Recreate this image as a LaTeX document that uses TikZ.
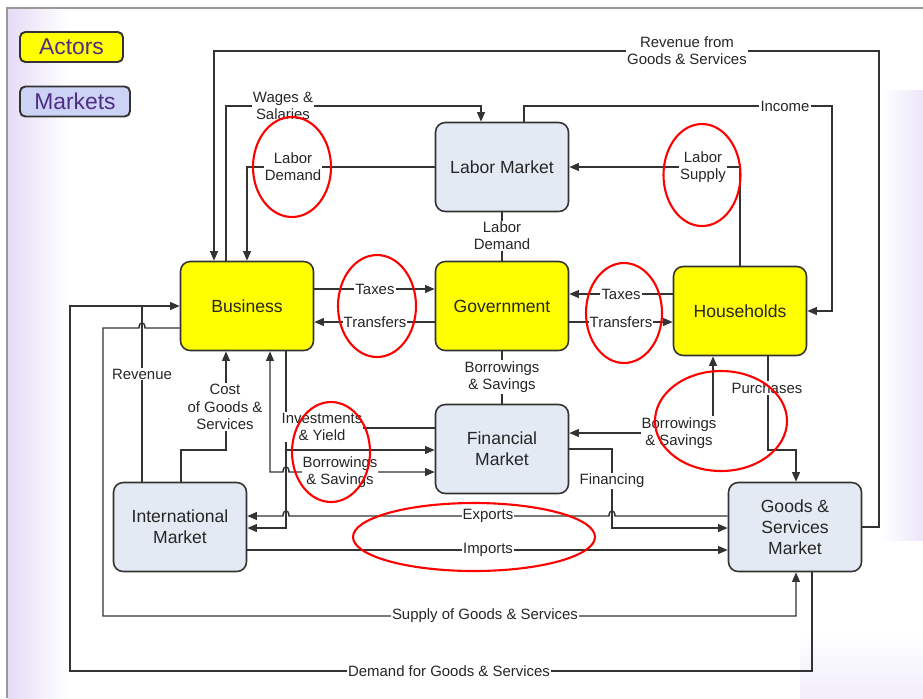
\documentclass[tikz,border=0pt]{standalone}
\usepackage{fontspec}
\setmainfont{Liberation Sans}
\usetikzlibrary{arrows.meta}

\definecolor{actorfill}{HTML}{FFFF00}
\definecolor{marketfill}{HTML}{E3EAF4}
\definecolor{ink}{HTML}{333333}
\definecolor{legendtext}{HTML}{4F2D84}
\definecolor{lavender}{HTML}{E4DCF6}

\tikzset{
	box/.style={draw=ink, line width=0.9pt, rounded corners=5.5pt,
		minimum width=2.66cm, minimum height=1.78cm, align=center,
		font=\fontsize{10}{12}\selectfont, text=black!85},
	actor/.style={box, fill=actorfill},
	market/.style={box, fill=marketfill},
	legendbox/.style={draw=ink, line width=1.1pt, rounded corners=3pt,
		minimum height=0.6cm, font=\fontsize{13}{15}\selectfont, text=legendtext},
	lbl/.style={fill=white, inner sep=0.6pt, align=center,
		font=\fontsize{8.5}{9.8}\selectfont, text=black!85},
	flow/.style={draw=ink, line width=0.8pt},
	arr/.style={flow, -{Triangle[length=5.5pt,width=4.5pt]}},
	twoway/.style={flow, {Triangle[length=5.5pt,width=4.5pt]}-{Triangle[length=5.5pt,width=4.5pt]}},
	circled/.style={draw=red, line width=1.2pt}
}

\begin{document}
\begin{tikzpicture}[x=0.02cm, y=-0.02cm]
	\useasboundingbox (0,0) rectangle (923,698);
	% slide background
	\shade [ left color=lavender, right color=white ] (8,9) rectangle (68,698);
	\shade [ left color=white, right color=lavender!70 ] (880,90) rectangle (923,540);
	\shade [ top color=white, bottom color=lavender!50 ] (800,630) rectangle (923,698);
	\draw [ gray!80, line width=0.6pt ] (7,698) -- (7,8) -- (923,8);

	% legend
	\node [ legendbox, fill=actorfill, minimum width=2.06cm ] (actors) at (71.5,47)
		{Actors};
	\node [ legendbox, fill=marketfill!90!blue, minimum width=2.2cm ] (markets) at (75,101.5)
		{Markets};

	% actors and markets
	\node [ market ] (lab) at (502,167)
		{Labor Market};
	\node [ actor ] (bus) at (247,306)
		{Business};
	\node [ actor ] (gov) at (502,306)
		{Government};
	\node [ actor ] (hh) at (740,311)
		{Households};
	\node [ market ] (fin) at (502,449)
		{Financial\\Market};
	\node [ market ] (intl) at (180,527)
		{International\\Market};
	\node [ market ] (gsm) at (795,527)
		{Goods \&\\Services\\Market};

	% bend points
	\coordinate (rvR) at (879,51);
	\coordinate (rvL) at (214,51);
	\coordinate (wgL) at (226,106);
	\coordinate (wgR) at (481,106);
	\coordinate (inL) at (524,106);
	\coordinate (inR) at (832,106);
	\coordinate (tx1) at (375,289);
	\coordinate (tr1) at (375,322);
	\coordinate (tx2) at (621,294);
	\coordinate (tr2) at (621,322);
	\coordinate (bs2) at (713,433);
	\coordinate (pu1) at (768,450);
	\coordinate (pu2) at (796,450);
	\coordinate (fcA) at (612,449);
	\coordinate (fcB) at (612,528);
	\coordinate (ex) at (488,516);
	\coordinate (im) at (488,550);
	\coordinate (ivC) at (286,428);
	\coordinate (ivD) at (286,450);
	\coordinate (ivE) at (286,528);
	\coordinate (bb) at (270,472);
	\coordinate (csA) at (181,450);
	\coordinate (csB) at (226,450);
	\coordinate (rvn) at (142,306);
	\coordinate (dmA) at (812,671);
	\coordinate (dmB) at (70,671);
	\coordinate (dmC) at (70,306);
	\coordinate (spA) at (103,328);
	\coordinate (spB) at (103,616);
	\coordinate (spC) at (796,616);

	% flows
	\draw [ arr ] (gsm.east) -| (rvR) -- (rvL) -- (bus.north -| rvL);
	\draw [ arr ] (bus.north -| wgL) -- (wgL) -- (wgR) -- (lab.north -| wgR);
	\draw [ arr ] (lab.west) -| (bus.north);
	\draw [ arr ] (lab.north -| inL) -- (inL) -- (inR) |- (hh.east);
	\draw [ arr ] (hh.north) |- (lab.east);
	\draw [ flow ] (gov.north) -- (lab.south);
	\draw [ arr ] (bus.east |- tx1) -- (gov.west |- tx1);
	\draw [ arr ] (gov.west |- tr1) -- (bus.east |- tr1);
	\draw [ arr ] (hh.west |- tx2) -- (gov.east |- tx2);
	\draw [ arr ] (gov.east |- tr2) -- (hh.west |- tr2);
	\draw [ flow ] (gov.south) -- (fin.north);
	\draw [ twoway ] (fin.east |- bs2) -- (bs2) -- (hh.south -| bs2);
	\draw [ arr ] (hh.south -| pu1) -- (pu1) -- (pu2) -- (gsm.north -| pu2);
	\draw [ arr ] (fin.east) -- (fcA) -- (fcB) -- (gsm.west |- fcB);
	\draw [ arr ] (gsm.west |- ex) -- (615,516) .. controls (615,509) and (609,509) .. (609,516)
		-- (289,516) .. controls (289,509) and (283,509) .. (283,516) -- (intl.east |- ex);
	\draw [ arr ] (intl.east |- im) -- (gsm.west |- im);
	\draw [ flow ] (fin.west |- ivC) -- (ivC) -- (bus.south -| ivC);
	\draw [ arr ] (ivC) -- (ivD) -- (fin.west |- ivD);
	\draw [ arr ] (ivD) -- (ivE) -- (intl.east |- ivE);
	\draw [ twoway ] (bus.south -| bb) -- (bb) -- (283,472) .. controls (283,465) and (289,465) .. (289,472)
		-- (fin.west |- bb);
	\draw [ arr ] (intl.north -| csA) -- (csA) -- (csB) -- (bus.south -| csB);
	\draw [ flow ] (intl.north -| rvn) -- (rvn);
	\draw [ arr ] (gsm.south -| dmA) -- (dmA) -- (dmB) -- (dmC) -- (bus.west |- dmC);
	\draw [ arr ] (bus.west |- spA) -- (145,328) .. controls (145,321) and (139,321) .. (139,328)
		-- (spA) -- (spB) -- (spC) -- (gsm.south -| spC);

	% flow labels
	\node [ lbl ] (revgs) at (687,51) {Revenue from\\Goods \& Services};
	\node [ lbl ] (wages) at (283,106) {Wages \&\\Salaries};
	\node [ lbl ] (ldemB) at (293,167) {Labor\\Demand};
	\node [ lbl ] (income) at (785,106) {Income};
	\node [ lbl ] (lsup) at (703,167) {Labor\\Supply};
	\node [ lbl ] (ldemG) at (502,236) {Labor\\Demand};
	\node [ lbl ] (taxB) at (tx1) {Taxes};
	\node [ lbl ] (trB) at (tr1) {Transfers};
	\node [ lbl ] (taxH) at (tx2) {Taxes};
	\node [ lbl ] (trH) at (tr2) {Transfers};
	\node [ lbl ] (bsG) at (502,377) {Borrowings\\\& Savings};
	\node [ lbl ] (bsH) at (679,433) {Borrowings\\\& Savings};
	\node [ lbl ] (purch) at (767,388) {Purchases};
	\node [ lbl ] (financ) at (612,481) {Financing};
	\node [ lbl ] (exp) at (ex) {Exports};
	\node [ lbl ] (imp) at (im) {Imports};
	\node [ lbl ] (invest) at (322,427) {Investments\\\& Yield};
	\node [ lbl ] (bsB) at (340,472) {Borrowings\\\& Savings};
	\node [ lbl ] (cost) at (225,407) {Cost\\of Goods \&\\Services};
	\node [ lbl ] (rev) at (142,374) {Revenue};
	\node [ lbl ] (supply) at (485,616) {Supply of Goods \& Services};
	\node [ lbl ] (demand) at (449,671) {Demand for Goods \& Services};

	% red marks
	\draw [ circled ] (292,167) ellipse [x radius=39, y radius=50];
	\draw [ circled ] (702,175) ellipse [x radius=38.5, y radius=51];
	\draw [ circled ] (377,306) ellipse [x radius=39, y radius=51];
	\draw [ circled ] (624,313) ellipse [x radius=38, y radius=50];
	\draw [ circled ] (721,421) ellipse [x radius=66, y radius=50];
	\draw [ circled ] (331,452) ellipse [x radius=39, y radius=50];
	\draw [ circled ] (474,537) ellipse [x radius=121, y radius=34];
\end{tikzpicture}
\end{document}
